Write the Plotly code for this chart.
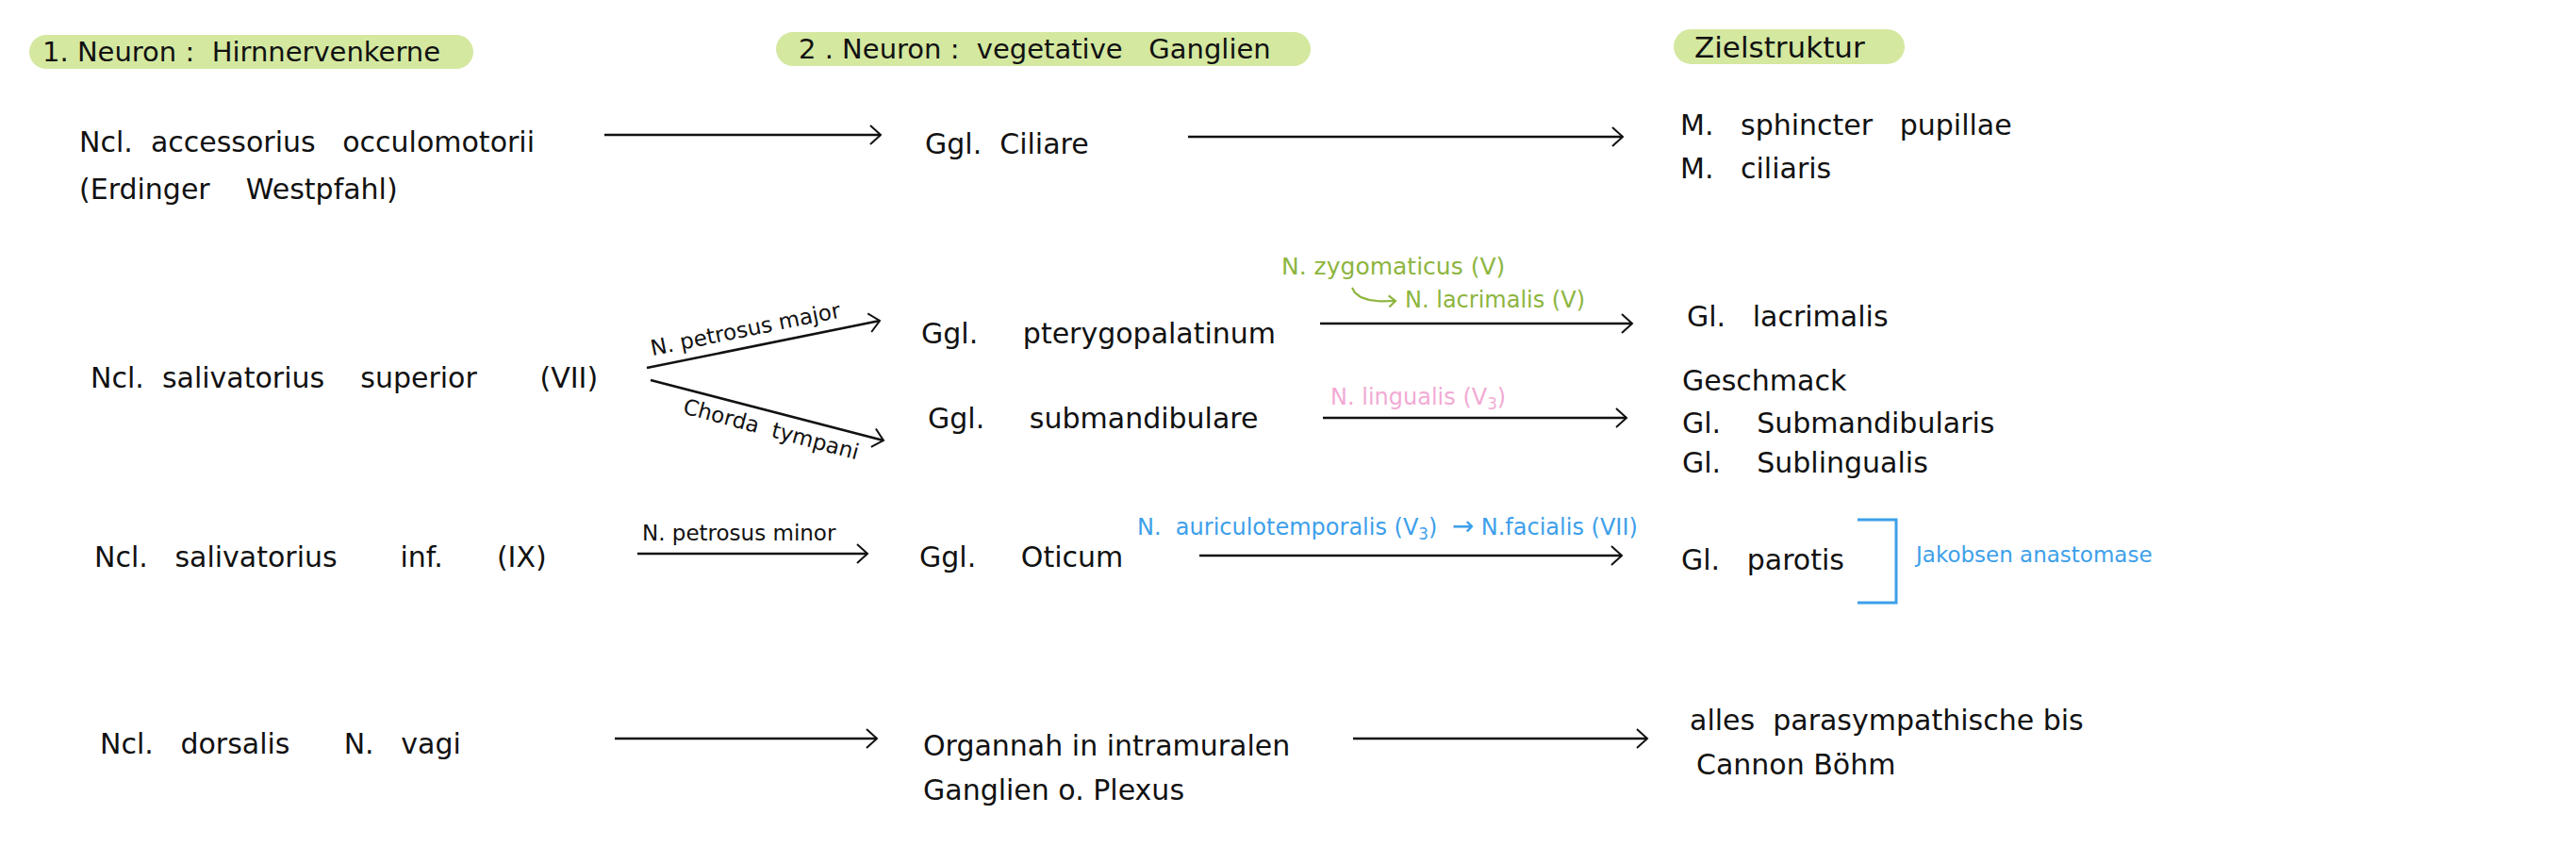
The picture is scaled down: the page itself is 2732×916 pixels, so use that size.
import math
import plotly.graph_objects as go

W, H = 2732, 916
PAGE_PAD = 8  # default body margin of the html page
NB = "\u00a0"

# column headers (green pills)
header_text = ["1." + NB + "Neuron" + NB + ":" + NB * 2 + "Hirnnervenkerne",
               "2" + NB + "." + NB + "Neuron" + NB + ":" + NB * 2 + "vegetative" + NB * 3 + "Ganglien",
               "Zielstruktur"]
header_x0 = [31, 823, 1775]
header_x1 = [502, 1390, 2020]
header_y0 = [37, 34, 31]
header_y1 = [73, 70, 68]
header_pad = [12, 22, 20]
header_size = [29, 29, 31]

# black labels
label_text = [
    "Ncl." + NB * 2 + "accessorius" + NB * 3 + "occulomotorii",
    "(Erdinger" + NB * 4 + "Westpfahl)",
    "Ggl." + NB * 2 + "Ciliare",
    "M." + NB * 3 + "sphincter" + NB * 3 + "pupillae",
    "M." + NB * 3 + "ciliaris",
    "Ncl." + NB * 2 + "salivatorius" + NB * 4 + "superior" + NB * 7 + "(VII)",
    "Ggl." + NB * 5 + "pterygopalatinum",
    "Ggl." + NB * 5 + "submandibulare",
    "Gl." + NB * 3 + "lacrimalis",
    "Geschmack",
    "Gl." + NB * 4 + "Submandibularis",
    "Gl." + NB * 4 + "Sublingualis",
    "Ncl." + NB * 3 + "salivatorius" + NB * 7 + "inf." + NB * 6 + "(IX)",
    "Ggl." + NB * 5 + "Oticum",
    "Gl." + NB * 3 + "parotis",
    "Ncl." + NB * 3 + "dorsalis" + NB * 6 + "N." + NB * 3 + "vagi",
    "Organnah" + NB + "in" + NB + "intramuralen",
    "Ganglien" + NB + "o." + NB + "Plexus",
    "alles" + NB * 2 + "parasympathische" + NB + "bis",
    "Cannon" + NB + "Böhm",
]
label_x = [82, 82, 979, 1780, 1780, 94, 975, 982, 1787, 1782, 1782, 1782,
           98, 973, 1781, 104, 977, 977, 1790, 1797]
label_y = [150, 200, 152, 132, 178, 400, 353, 443, 335, 403, 448, 490,
           590, 590, 593, 788, 790, 837, 763, 810]

# small nerve labels on the arrows
nerve_text = ["N. petrosus major", "Chorda" + NB * 2 + "tympani", "N. petrosus minor"]
nerve_x = [790, 818, 679]
nerve_y = [349, 455, 565]
nerve_angle = [-11.5, 15, 0]
nerve_anchor = ["center", "center", "left"]

# coloured side notes
note_text = ["N." + NB + "zygomaticus" + NB + "(V)",
             "N. lacrimalis (V)",
             "N. lingualis (V<sub>3</sub>)",
             "N." + NB * 2 + "auriculotemporalis" + NB + "(V<sub>3</sub>)" + NB * 2
             + "<span style='font-size:28px'>→</span>" + NB + "N.facialis" + NB + "(VII)",
             "Jakobsen" + NB + "anastomase"]
note_x = [1357, 1488, 1409, 1204, 2028]
note_y = [282, 318, 422, 558, 588]
note_size = [25, 24, 24, 24, 23]
note_color = ["#8db53f", "#8db53f", "#f2aad4", "#3d9fea", "#3d9fea"]

# straight arrows
arrow_x0 = [641, 1260, 686, 690, 1400, 1403, 676, 1272, 652, 1435]
arrow_y0 = [143, 145, 390, 403, 343, 443, 587, 589, 783, 783]
arrow_x1 = [934, 1721, 933, 937, 1731, 1725, 920, 1720, 930, 1747]
arrow_y1 = [143, 145, 340, 467, 343, 443, 587, 589, 783, 783]

# curved green arrow (quadratic bezier: start, control, end)
curve_x = [1434, 1440, 1480]
curve_y = [305, 322, 319]

# blue bracket
bracket_x = [1970, 2011, 2011, 1970]
bracket_y = [551, 551, 639, 639]

BLACK = "#111111"
GREEN_PILL = "#d4e8a0"
FONT = "DejaVu Sans"


def chevron(x0, y0, x1, y1, back=11, half=10):
    d = math.hypot(x1 - x0, y1 - y0)
    ux, uy = (x1 - x0) / d, (y1 - y0) / d
    px, py = -uy, ux
    bx, by = x1 - ux * back, y1 - uy * back
    return ([bx + px * half, x1, bx - px * half], [by + py * half, y1, by - py * half])


def pill_path(x0, y0, x1, y1):
    r = (y1 - y0) / 2
    k = 0.55 * r
    return (f"M{x0 + r},{y0} L{x1 - r},{y0} "
            f"C{x1 - r + k},{y0} {x1},{y0 + r - k} {x1},{y0 + r} "
            f"C{x1},{y1 - r + k} {x1 - r + k},{y1} {x1 - r},{y1} "
            f"L{x0 + r},{y1} "
            f"C{x0 + r - k},{y1} {x0},{y1 - r + k} {x0},{y1 - r} "
            f"C{x0},{y0 + r - k} {x0 + r - k},{y0} {x0 + r},{y0} Z")


fig = go.Figure()

# arrows
for x0, y0, x1, y1 in zip(arrow_x0, arrow_y0, arrow_x1, arrow_y1):
    fig.add_trace(go.Scatter(x=[x0, x1], y=[y0, y1], mode="lines",
                             line=dict(color=BLACK, width=2.6),
                             hoverinfo="skip", showlegend=False))
    hx, hy = chevron(x0, y0, x1, y1)
    fig.add_trace(go.Scatter(x=hx, y=hy, mode="lines",
                             line=dict(color=BLACK, width=2),
                             hoverinfo="skip", showlegend=False))

# curved green arrow
ts = [i / 20 for i in range(21)]
cx = [(1 - t) ** 2 * curve_x[0] + 2 * (1 - t) * t * curve_x[1] + t ** 2 * curve_x[2] for t in ts]
cy = [(1 - t) ** 2 * curve_y[0] + 2 * (1 - t) * t * curve_y[1] + t ** 2 * curve_y[2] for t in ts]
fig.add_trace(go.Scatter(x=cx, y=cy, mode="lines", line=dict(color="#8db53f", width=2.2),
                         hoverinfo="skip", showlegend=False))
hx, hy = chevron(cx[-2], cy[-2], cx[-1], cy[-1], back=7, half=6)
fig.add_trace(go.Scatter(x=hx, y=hy, mode="lines", line=dict(color="#8db53f", width=2.2),
                         hoverinfo="skip", showlegend=False))

# bracket
fig.add_trace(go.Scatter(x=bracket_x, y=bracket_y, mode="lines",
                         line=dict(color="#3d9fea", width=3),
                         hoverinfo="skip", showlegend=False))

# header pills
for txt, x0, x1, y0, y1, pad, s in zip(header_text, header_x0, header_x1,
                                        header_y0, header_y1, header_pad, header_size):
    fig.add_shape(type="path", path=pill_path(x0, y0, x1, y1), xref="x", yref="y",
                  fillcolor=GREEN_PILL, line=dict(width=0), layer="below")
    fig.add_annotation(x=x0 + pad, y=(y0 + y1) / 2, text=txt, showarrow=False,
                       xanchor="left", yanchor="middle",
                       font=dict(family=FONT, size=s, color=BLACK))

for txt, x, y in zip(label_text, label_x, label_y):
    fig.add_annotation(x=x, y=y, text=txt, showarrow=False, xanchor="left",
                       yanchor="middle", font=dict(family=FONT, size=30, color=BLACK))

for txt, x, y, a, anc in zip(nerve_text, nerve_x, nerve_y, nerve_angle, nerve_anchor):
    fig.add_annotation(x=x, y=y, text=txt, showarrow=False, xanchor=anc,
                       yanchor="middle", textangle=a,
                       font=dict(family=FONT, size=23, color=BLACK))

for txt, x, y, s, c in zip(note_text, note_x, note_y, note_size, note_color):
    fig.add_annotation(x=x, y=y, text=txt, showarrow=False, xanchor="left",
                       yanchor="middle", font=dict(family=FONT, size=s, color=c))

# the page has a default body margin, so the axes start at that offset
fig.update_xaxes(range=[PAGE_PAD, W], visible=False, fixedrange=True)
fig.update_yaxes(range=[H, PAGE_PAD], visible=False, fixedrange=True)
fig.update_layout(width=W - PAGE_PAD, height=H - PAGE_PAD,
                  margin=dict(l=0, r=0, t=0, b=0),
                  plot_bgcolor="white", paper_bgcolor="white")

fig.write_html("out.html")
